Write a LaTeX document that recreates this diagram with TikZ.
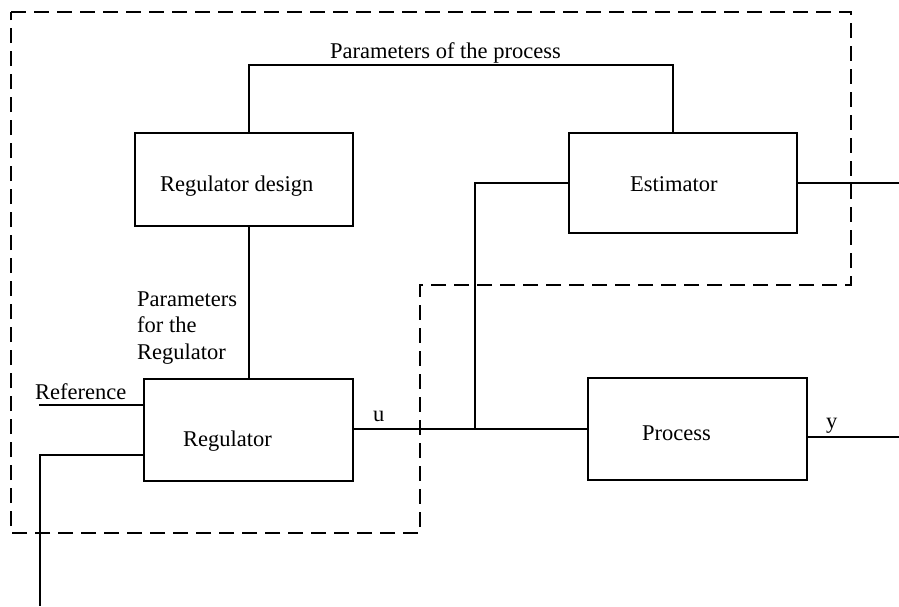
\documentclass[tikz,border=0pt]{standalone}
\usepackage{fontspec}
\setmainfont{Liberation Serif}
\begin{document}
\begin{tikzpicture}[x=1pt,y=-1pt,
  blk/.style={draw,line width=1.4pt,inner sep=0pt},
  wire/.style={line width=1.3pt},
  bound/.style={line width=1.6pt,dash pattern=on 15pt off 8pt},
  lbl/.style={font=\fontsize{22.5}{26.5}\selectfont,inner sep=0pt,anchor=base west}]
\useasboundingbox (0,0) rectangle (899,606);

% blocks
\node[blk,minimum width=218pt,minimum height=93pt]  (design) at (244,179.5) {};
\node[blk,minimum width=228pt,minimum height=100pt] (estim)  at (683,183) {};
\node[blk,minimum width=209pt,minimum height=102pt] (reg)    at (248.5,430) {};
\node[blk,minimum width=219pt,minimum height=102pt] (proc)   at (697.5,429) {};

% block captions
\node[lbl] (tdesign) at (160,191) {Regulator design};
\node[lbl] (testim)  at (630,191) {Estimator};
\node[lbl] (treg)    at (183,446) {Regulator};
\node[lbl] (tproc)   at (642,440) {Process};

% signal labels
\node[lbl] (tpp)  at (330,58)  {Parameters of the process};
\node[lbl] (tref) at (35,399)  {Reference};
\node[lbl] (tu)   at (373,421) {u};
\node[lbl] (ty)   at (826,428) {y};
% baseline of the last line is the anchor
\node[lbl,align=left] (tpr) at (137,359) {Parameters\\for the\\Regulator};

% routing points
\coordinate (ppL)  at (249,65);
\coordinate (ppR)  at (673,65);
\coordinate (junc) at (475,429);
\coordinate (eout) at (899,183);
\coordinate (yout) at (899,437);
\coordinate (refin) at (39,405);
\coordinate (fbtap) at (40,455);
\coordinate (fbend) at (40,606);

% connectors
\draw[wire] (design.north -| ppL) -- (ppL) -- (ppR) -- (estim.north -| ppR);
\draw[wire] (design.south -| ppL) -- (reg.north -| ppL);
\draw[wire] (reg.east |- junc) -- (proc.west |- junc);
\draw[wire] (junc) |- (estim.west);
\draw[wire] (estim.east) -- (eout);
\draw[wire] (proc.east |- yout) -- (yout);
\draw[wire] (refin) -- (refin -| reg.west);
\draw[wire] (fbtap -| reg.west) -- (fbtap) -- (fbend);

% boundary of the adaptive part
\draw[bound] (11,12) -- (851,12) -- (851,285) -- (420,285) -- (420,533) -- (11,533) -- cycle;
\end{tikzpicture}
\end{document}
